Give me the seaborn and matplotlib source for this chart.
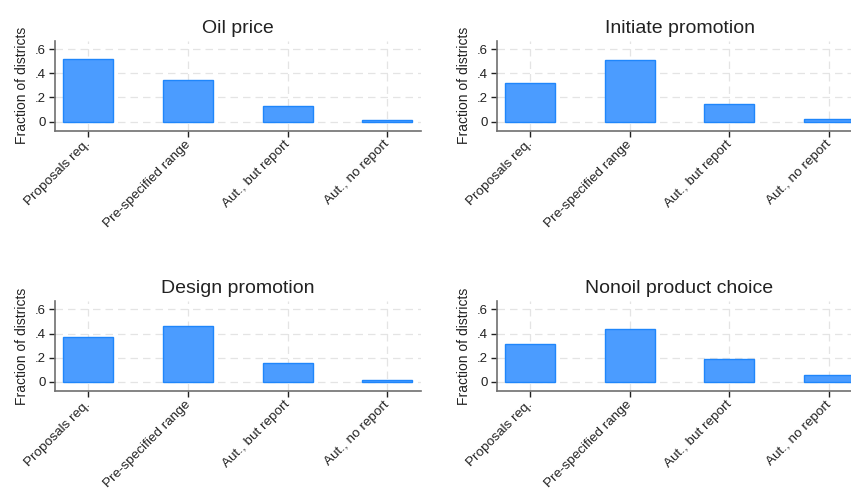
import matplotlib
matplotlib.use("Agg")
import matplotlib.pyplot as plt
import matplotlib.transforms as mtransforms
import seaborn as sns
import pandas as pd

sns.set_theme(style="white")
plt.rcParams["font.family"] = ["Liberation Sans", "DejaVu Sans"]

categories = ["Proposals req.", "Pre-specified range", "Aut., but report", "Aut., no report"]
oil_price = [0.517, 0.343, 0.128, 0.012]
initiate_promotion = [0.318, 0.509, 0.149, 0.022]
design_promotion = [0.370, 0.460, 0.156, 0.013]
nonoil_product_choice = [0.312, 0.438, 0.189, 0.058]

panel_titles = ["Oil price", "Initiate promotion", "Design promotion", "Nonoil product choice"]
panel_values = [oil_price, initiate_promotion, design_promotion, nonoil_product_choice]

yticks = [0, 0.2, 0.4, 0.6]
ytick_labels = ["0", ".2", ".4", ".6"]

FILL = "#4b9cff"
EDGE = "#1f86fb"
GRID = "#e4e4e4"
SPINE = "#707070"

W, H = 851, 490
fig = plt.figure(figsize=(W / 100, H / 100), dpi=100)

# panel boxes in pixels: left, right, top, bottom
boxes = [
    (55, 420.7, 40.7, 130.7),
    (496.7, 862.4, 40.7, 130.7),
    (55, 420.7, 301, 391),
    (496.7, 862.4, 301, 391),
]

# nudge rotated category labels so their ends sit just under the ticks
label_shift = mtransforms.ScaledTranslation(-4 / 100, 3 / 100, fig.dpi_scale_trans)

for (l, r, t, b), title, vals in zip(boxes, panel_titles, panel_values):
    ax = fig.add_axes([l / W, 1 - b / H, (r - l) / W, (b - t) / H])
    df = pd.DataFrame({"category": categories, "fraction": vals})
    sns.barplot(data=df, x="category", y="fraction", ax=ax, color=FILL,
                edgecolor=EDGE, linewidth=1.0, width=0.5, saturation=1)
    ax.set_xlim(-0.335, 3.335)
    ax.set_ylim(-0.075, 0.67)
    ax.set_yticks(yticks)
    ax.set_yticklabels(ytick_labels)
    ax.set_axisbelow(True)
    ax.grid(True, axis="both", color=GRID, linestyle=(0, (6, 4)), linewidth=0.9)
    for side in ["top", "right"]:
        ax.spines[side].set_visible(False)
    for side in ["left", "bottom"]:
        ax.spines[side].set_color(SPINE)
        ax.spines[side].set_linewidth(1.2)
    ax.tick_params(axis="both", which="major", direction="out", length=4.5,
                   width=1.0, color="#222222", labelcolor="#222222",
                   bottom=True, left=True)
    ax.tick_params(axis="y", labelsize=9.5, pad=2)
    ax.tick_params(axis="x", labelsize=9.7, pad=3)
    ax.set_xticks(range(len(categories)))
    ax.set_xticklabels(categories, rotation=45, ha="right", va="top",
                       rotation_mode="anchor")
    for lab in ax.get_xticklabels():
        lab.set_transform(lab.get_transform() + label_shift)
    ax.set_xlabel("")
    ax.set_ylabel("Fraction of districts", fontsize=10, color="#222222", labelpad=4)
    ax.set_title(title, fontsize=14, color="#222222", pad=5.5)

fig.savefig("out.png", dpi=100, facecolor="white")
